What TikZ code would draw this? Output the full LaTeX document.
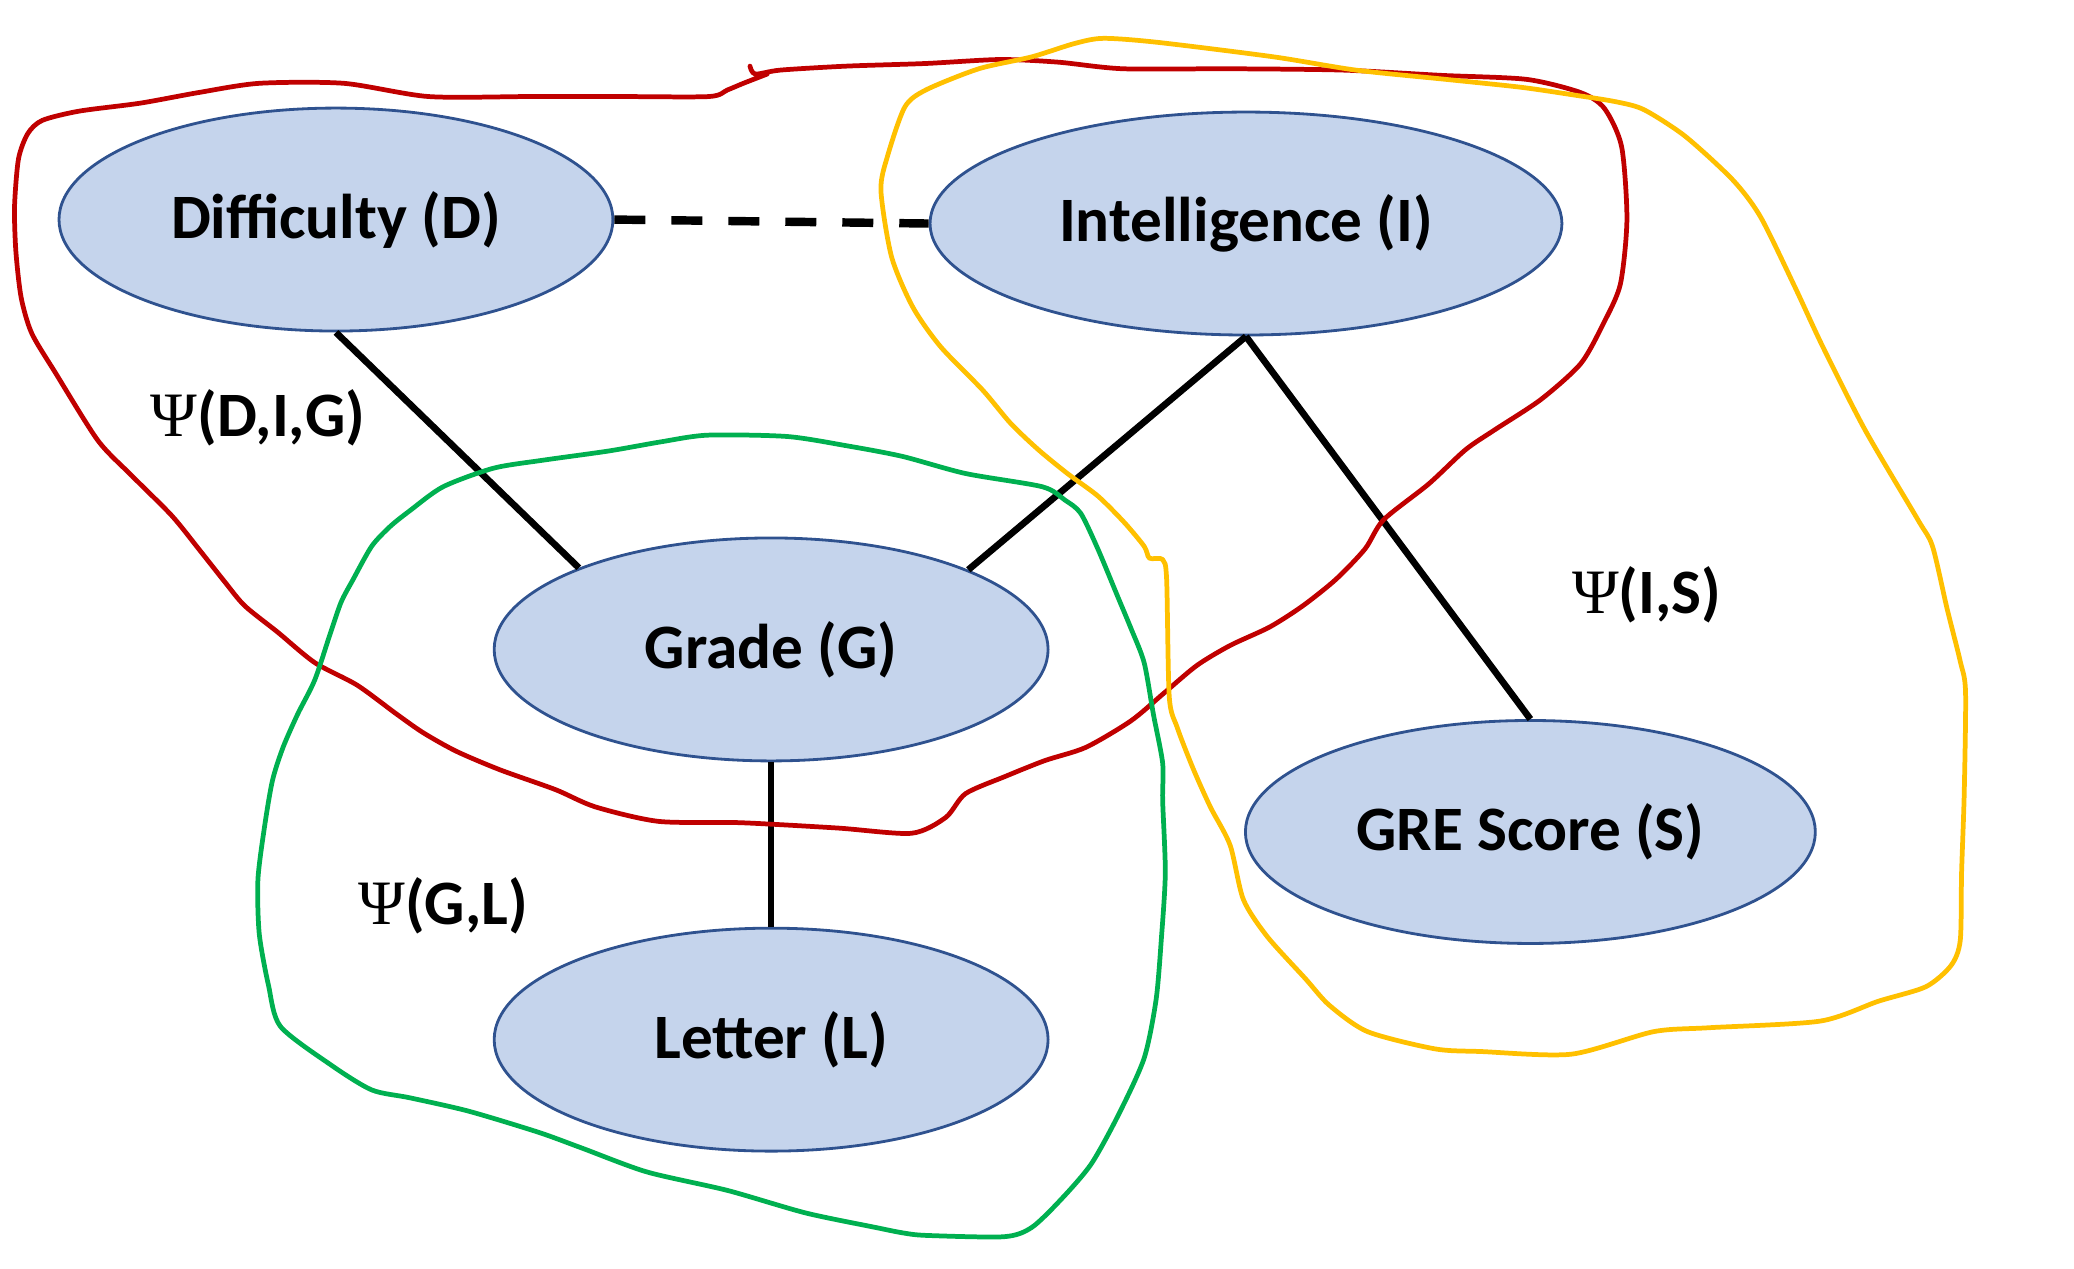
\documentclass[tikz,border=0pt]{standalone}
\usepackage{fontspec}
\setmainfont{Carlito}
\newfontfamily\psifont{Liberation Serif}
\usetikzlibrary{shapes.geometric,positioning}
\definecolor{nodefill}{RGB}{197,212,236}
\definecolor{nodeline}{RGB}{47,82,143}
\definecolor{penred}{RGB}{192,0,0}
\definecolor{penorange}{RGB}{255,192,0}
\definecolor{pengreen}{RGB}{0,176,80}
\tikzset{
    rv/.style={draw=nodeline, line width=0.8pt, fill=nodefill, ellipse,
               minimum width=5.54cm, minimum height=2.23cm,
               font=\fontsize{18}{22}\selectfont\bfseries},
    linkline/.style={line width=1.9pt},
    dashlink/.style={line width=2.4pt, dash pattern=on 0.31cm off 0.26cm},
    psi/.style={font=\fontsize{18}{22}\selectfont\bfseries},
    clique/.style={line width=1.35pt, line join=round, line cap=round},
}
\newcommand{\psisym}{{\psifont\mdseries Ψ}}

\begin{document}
\begin{tikzpicture}[x=0.013227cm, y=-0.013227cm]
    \useasboundingbox (0,0) rectangle (1568,959);

    % Variables
    \node[rv] (D) at (254,166) {Difficulty (D)};
    \node[rv, minimum width=6.32cm] (I) at (942,169) {Intelligence (I)};
    \node[rv] (G) at (583,491) {Grade (G)};
    \node[rv, minimum width=5.70cm] (S) at (1157,629) {GRE Score (S)};
    \node[rv] (L) at (583,786) {Letter (L)};

    % Links
    \draw[dashlink] (D.east) -- (I.west);
    \draw[linkline] (D.south) -- (G.157.6);
    \draw[linkline] (I.south) -- (G.22.5);
    \draw[linkline] (I.south) -- (S.north);
    \draw[linkline] (G.south) -- (L.north);

    % Potentials
    \node[psi] (pDIG) at (195,316) {\psisym(D,I,G)};
    \node[psi] (pIS) at (1245,450) {\psisym(I,S)};
    \node[psi] (pGL) at (335,685) {\psisym(G,L)};

    % Clique D,I,G
    \draw[clique, penred] plot[smooth, tension=0.45] coordinates {
        (567,50) (571,56) (590,53) (640,50) (700,48) (756,45) (800,47)
        (849,52) (930,52) (1015,53) (1090,57) (1154,60) (1195,70) (1213,82)
        (1226,111) (1230,166) (1225,215) (1212,245) (1195,275) (1165,302)
        (1130,325) (1108,340) (1080,366) (1046,393) (1032,415) (1010,438)
        (985,458) (960,474) (930,488) (905,503) (880,524) (855,545) (821,565)
        (790,575) (760,587) (730,600) (715,618) (689,630) (633,626) (560,622)
        (498,621) (450,610) (420,597) (378,582) (345,568) (320,554) (300,540)
        (270,518) (238,501) (210,478) (185,458) (170,440) (151,416) (130,390)
        (100,360) (74,333) (42,282) (24,252) (16,225) (12,190) (11,156)
        (14,120) (21,101) (32,91) (60,84) (106,78) (150,70) (196,63) (260,63)
        (324,73) (400,73) (470,73) (536,73) (550,68) (562,63) (580,56)};

    % Clique I,S
    \draw[clique, penorange] plot[smooth cycle, tension=0.45] coordinates {
        (812,33) (834,29) (875,32) (963,43) (1025,53) (1093,60) (1150,66)
        (1191,72) (1222,77) (1243,83) (1274,103) (1310,136) (1331,164)
        (1357,217) (1378,262) (1410,325) (1450,393) (1461,413) (1472,460)
        (1482,500) (1486,523) (1485,600) (1483,660) (1482,711) (1475,730)
        (1456,746) (1420,757) (1376,772) (1292,777) (1250,780) (1188,797)
        (1120,795) (1085,793) (1034,780) (1005,760) (987,740) (958,708)
        (940,680) (930,639) (915,610) (902,581) (890,550) (884,527) (882,438)
        (879,423) (869,422) (865,413) (850,395) (830,375) (807,358) (785,340)
        (764,320) (743,295) (711,262) (690,232) (674,194) (666,144) (671,118)
        (684,81) (700,68) (740,52) (780,43)};

    % Clique G,L
    \draw[clique, pengreen] plot[smooth cycle, tension=0.45] coordinates {
        (535,329) (595,330) (640,337) (682,345) (730,358) (788,368) (805,378)
        (817,388) (830,415) (845,451) (855,475) (865,501) (872,540) (879,577)
        (879,605) (881,660) (878,710) (874,756) (865,800) (846,842) (825,880)
        (802,907) (780,928) (759,935) (700,934) (682,932) (662,928) (609,917)
        (550,900) (489,886) (440,868) (407,856) (354,840) (310,830) (281,824)
        (250,805) (212,776) (203,745) (196,706) (195,665) (200,625) (206,590)
        (214,565) (225,540) (238,514) (250,478) (258,455) (267,438) (281,413)
        (295,398) (310,386) (335,368) (373,354) (410,348) (460,341) (500,334)};
\end{tikzpicture}
\end{document}
